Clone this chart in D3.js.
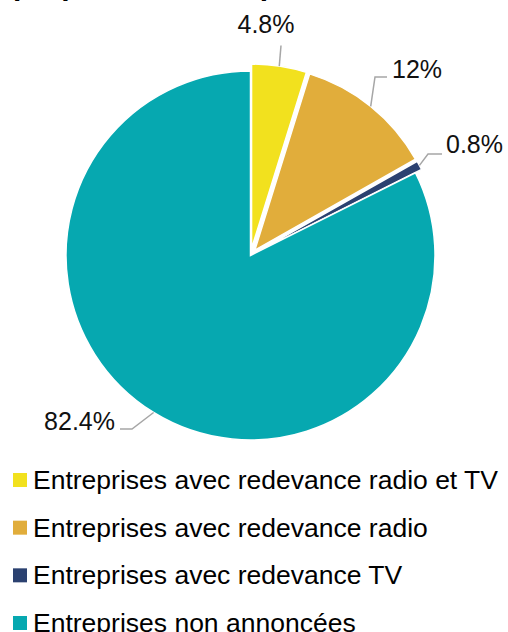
<!DOCTYPE html>
<html>
<head>
<meta charset="utf-8">
<script src="https://cdn.jsdelivr.net/npm/d3@7"></script>
<style>
  body { margin: 0; background: #fff; }
  svg { display: block; font-family: "Liberation Sans", Arial, sans-serif; }
</style>
</head>
<body>
<div id="chart"></div>
<script>
(function () {

  // data
  const categories = [
    'Entreprises avec redevance radio et TV',
    'Entreprises avec redevance radio',
    'Entreprises avec redevance TV',
    'Entreprises non annoncées'
  ]
  const values = [4.8, 12, 0.8, 82.4]
  const valueLabels = ['4.8%', '12%', '0.8%', '82.4%']
  const colors = ['#f2e11e', '#e1ad3b', '#2b4170', '#06a8b0']
  const exploded = [true, true, true, false]
  const titleText = 'proportion selon paiement des redevances'

  const width = 508
  const height = 632
  const cx = 250.5
  const cy = 255.5
  const radius = 184.5
  const explode = 7

  const svg = d3.select('#chart').append('svg')
      .attr('width', width)
      .attr('height', height)

  // title is cut off by the top of the frame, only descenders show
  svg.append('text')
    .attr('x', 13)
    .attr('y', -5)
    .attr('font-size', 30)
    .attr('font-weight', 'bold')
    .attr('fill', '#000')
    .text(titleText)

  const pie = d3.pie().sort(null).value(d => d)
  const arcs = pie(values)

  const arc = d3.arc().innerRadius(0).outerRadius(radius)

  // offset of an exploded slice
  function shift (d, i) {
    if (!exploded[i]) return [0, 0]
    const a = (d.startAngle + d.endAngle) / 2
    return [explode * Math.sin(a), -explode * Math.cos(a)]
  }

  const g = svg.append('g')
      .attr('transform', 'translate(' + cx + ',' + cy + ')')

  g.selectAll('path')
    .data(arcs)
    .join('path')
    .attr('d', arc)
    .attr('transform', (d, i) => 'translate(' + shift(d, i).join(',') + ')')
    .attr('fill', (d, i) => colors[i])
    .attr('stroke', '#fff')
    .attr('stroke-width', 1.5)

  // label layout: elbow point (relative to centre) and text position
  const labelLayout = [
    { elbow: null, end: [30.5, -210], tx: 266, ty: 33, anchor: 'middle' },
    { elbow: [124.5, -178.5], end: [136.5, -178.5], tx: 392, ty: 78, anchor: 'start' },
    { elbow: [177.5, -101.5], end: [191.5, -101.5], tx: 446, ty: 153, anchor: 'start' },
    { elbow: [-118.5, 173.5], end: [-130.5, 173.5], tx: 115, ty: 430, anchor: 'end' }
  ]

  arcs.forEach((d, i) => {
    const a = (d.startAngle + d.endAngle) / 2
    const s = shift(d, i)
    const start = [s[0] + radius * Math.sin(a), s[1] - radius * Math.cos(a)]
    const lay = labelLayout[i]
    const pts = [start]
    if (lay.elbow) pts.push(lay.elbow)
    pts.push(lay.end)

    g.append('path')
      .attr('d', d3.line()(pts))
      .attr('fill', 'none')
      .attr('stroke', '#a6a6a6')
      .attr('stroke-width', 1.5)

    svg.append('text')
      .attr('x', lay.tx)
      .attr('y', lay.ty)
      .attr('text-anchor', lay.anchor)
      .attr('font-size', 25)
      .attr('fill', '#111')
      .text(valueLabels[i])
  })

  // legend
  const legendY = d3.scalePoint()
    .domain(categories)
    .range([489, 632])

  const legend = svg.selectAll('.legend')
    .data(categories)
    .join('g')
    .attr('class', 'legend')
    .attr('transform', d => 'translate(0,' + legendY(d) + ')')

  legend.append('rect')
    .attr('x', 13)
    .attr('y', -16)
    .attr('width', 14)
    .attr('height', 14)
    .attr('fill', (d, i) => colors[i])

  legend.append('text')
    .attr('x', 33)
    .attr('y', 0)
    .attr('font-size', 26.5)
    .attr('fill', '#000')
    .text(d => d)

})();
</script>
</body>
</html>
